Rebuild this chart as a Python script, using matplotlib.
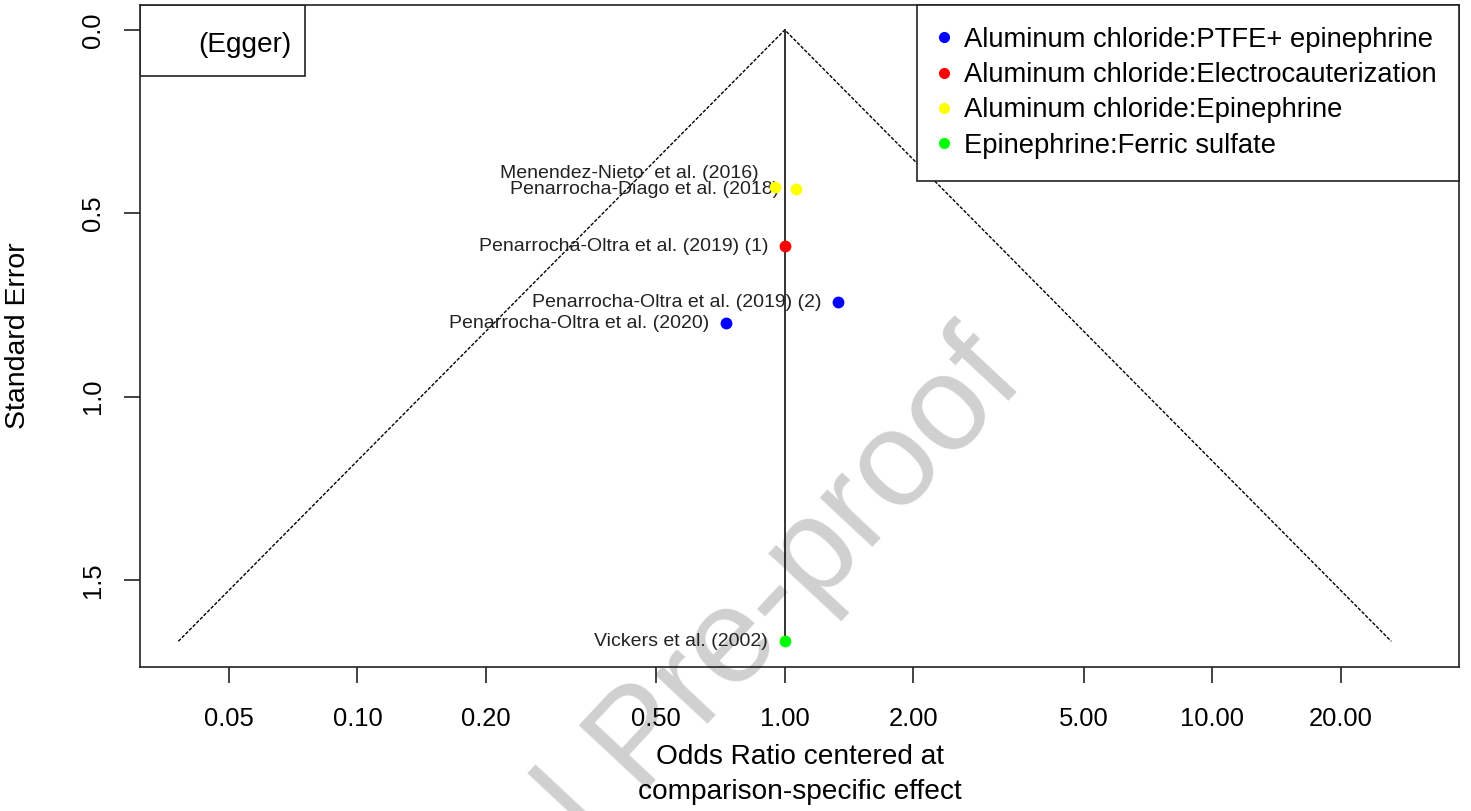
import numpy as np
import matplotlib.pyplot as plt
from matplotlib.patches import Rectangle
from matplotlib.lines import Line2D

plt.rcParams['font.family'] = ['Liberation Sans', 'DejaVu Sans']

# study-level data (odds ratio centred at comparison effect, standard error)
studies = ["Menendez-Nieto  et al. (2016)", "Penarrocha-Diago et al. (2018)",
           "Penarrocha-Oltra et al. (2019) (1)", "Penarrocha-Oltra et al. (2019) (2)",
           "Penarrocha-Oltra et al. (2020)", "Vickers et al. (2002)"]
odds_ratio = [0.95, 1.06, 1.00, 1.335, 0.73, 1.00]
std_error = [0.428, 0.434, 0.59, 0.742, 0.80, 1.667]
study_comparison = [2, 2, 1, 0, 0, 3]

comparisons = ["Aluminum chloride:PTFE+ epinephrine", "Aluminum chloride:Electrocauterization",
               "Aluminum chloride:Epinephrine", "Epinephrine:Ferric sulfate"]
comparison_colors = ["#0000ff", "#ff0000", "#ffff00", "#00ff00"]

x_ticks = [0.05, 0.10, 0.20, 0.50, 1.00, 2.00, 5.00, 10.00, 20.00]
y_ticks = [0.0, 0.5, 1.0, 1.5]

# vertical nudge (points) for overlapping labels
label_dy = [10, 0, 0, 0, 0, 0]

fig = plt.figure(figsize=(14.71, 8.11), dpi=100)
ax = fig.add_axes([140/1471, 1-667/811, 1319/1471, 662/811])
ax.patch.set_alpha(0)

# watermark
fig.text(643/1471, 1-742/811, "Journal Pre-proof", rotation=47, rotation_mode='anchor',
         ha='center', va='center', fontsize=98, color='#d0d0d0', zorder=-1)

se_max = max(std_error)
z = 1.96
ax.plot([np.exp(-z*se_max), 1, np.exp(z*se_max)], [se_max, 0, se_max],
        color='black', lw=1.0, ls=(0, (2.5, 1.2)))
ax.plot([1, 1], [0, se_max], color='#222222', lw=1.3)

for i in range(len(studies)):
    c = comparison_colors[study_comparison[i]]
    ax.plot(odds_ratio[i], std_error[i], 'o', color=c, ms=7.5, zorder=4)
    ax.annotate(studies[i], (odds_ratio[i], std_error[i]), xytext=(-12, label_dy[i]),
                textcoords='offset points', ha='right', va='center', fontsize=14,
                color='#222222')

ax.set_xscale('log')
ax.set_xlim(0.031, 37.8)
ax.set_ylim(1.737, -0.068)
ax.set_xticks(x_ticks)
ax.set_xticklabels(["%.2f" % t for t in x_ticks])
ax.minorticks_off()
ax.set_yticks(y_ticks)
ax.set_yticklabels(["%.1f" % t for t in y_ticks], rotation=90, va='center')
ax.tick_params(axis='both', length=11.5, width=1.2, labelsize=18.4, color='#222222')
ax.tick_params(axis='x', pad=17)
ax.tick_params(axis='y', pad=14)
for s in ax.spines.values():
    s.set_linewidth(1.2)
    s.set_color('#222222')

ax.set_xlabel("Odds Ratio centered at\ncomparison-specific effect", fontsize=20.2, linespacing=1.45)
ax.xaxis.set_label_coords(0.5, -0.116)
ax.set_ylabel("Standard Error", fontsize=20.5)
ax.yaxis.set_label_coords(-0.083, 0.5)

# Egger box
ax.add_patch(Rectangle((0, 1-71/662), 165/1319, 71/662, transform=ax.transAxes,
                       fill=False, lw=1.2, ec='#222222', zorder=5))
ax.text(58/1319, 1-40/662, "(Egger)", transform=ax.transAxes, ha='left', va='center',
        fontsize=20.2)

handles = [Line2D([], [], ls='none', marker='o', ms=7, color=c) for c in comparison_colors]
leg = ax.legend(handles, comparisons, loc='upper right', borderaxespad=0, fontsize=19.7,
                frameon=True, fancybox=False, edgecolor='#222222', handlelength=0.4,
                handletextpad=0.55, labelspacing=0.34, borderpad=0.8, framealpha=1)
leg.get_frame().set_linewidth(1.2)

fig.savefig("out.png", dpi=100)
